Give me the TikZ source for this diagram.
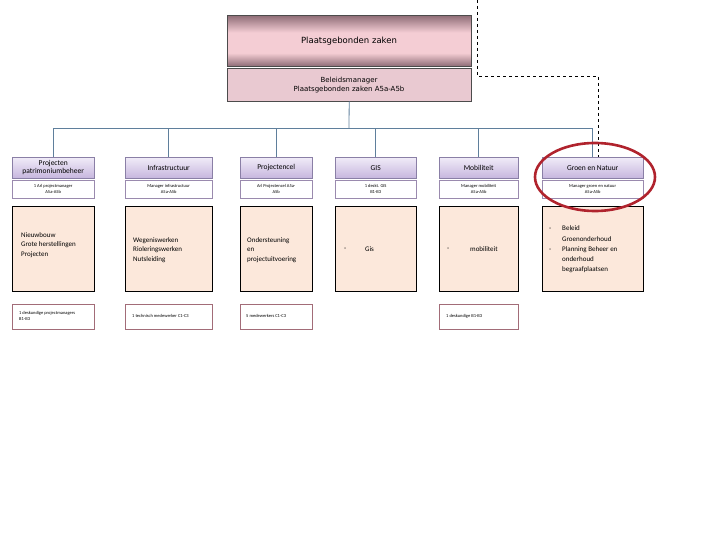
\documentclass[tikz,border=0pt]{standalone}
\usepackage{fontspec}
\setmainfont{Carlito}
\newfontfamily\topfont{DejaVu Sans}
\definecolor{conn}{HTML}{5F7F9C}
\definecolor{hdrtop}{HTML}{F1ECF8}
\definecolor{hdrbot}{HTML}{C6B6DE}
\definecolor{hdrline}{HTML}{8A7FA6}
\definecolor{peach}{HTML}{FCE8DB}
\definecolor{roleline}{HTML}{9A8AAE}
\definecolor{botline}{HTML}{A26C78}
\definecolor{topdark}{HTML}{8E6C76}
\definecolor{toppink}{HTML}{F4CDD4}
\definecolor{mgrfill}{HTML}{E9C9D1}
\definecolor{ringred}{HTML}{B0232D}
\pgfdeclareverticalshading{topshade}{100bp}{color(0bp)=(topdark); color(25bp)=(topdark); color(38bp)=(toppink); color(58bp)=(toppink); color(75bp)=(topdark); color(100bp)=(topdark)}
\tikzset{
  topbox/.style={draw=black!70, shading=topshade, anchor=north west, inner sep=0pt},
  mgrbox/.style={draw=black!70, fill=mgrfill, anchor=north west, inner sep=0pt},
  hdr/.style={draw=hdrline, shading=axis, top color=hdrtop, bottom color=hdrbot, anchor=north west, inner sep=1pt, align=center, font=\fontsize{7.5}{8.5}\selectfont},
  role/.style={draw=roleline, fill=white, anchor=north west, inner sep=1pt, align=center, font=\fontsize{4.5}{6}\selectfont},
  task/.style={draw=black, fill=peach, anchor=north west, inner sep=0pt},
  bot/.style={draw=botline, fill=white, anchor=north west, inner sep=0pt},
  tasktext/.style={anchor=west, align=left, inner sep=0pt, font=\fontsize{7}{9.5}\selectfont},
  bottext/.style={anchor=west, align=left, inner sep=0pt, font=\fontsize{4.5}{6}\selectfont},
  connline/.style={draw=conn, line width=0.8pt},
}
\begin{document}
\begin{tikzpicture}[x=1pt,y=-1pt]
\useasboundingbox (0,0) rectangle (720,540);
% top
\node[topbox, minimum width=244pt, minimum height=51pt] (top) at (227,15) {};
\node[font=\topfont\fontsize{8.5}{10}\selectfont] (toptext) at (349,41) {Plaatsgebonden zaken};
\node[mgrbox, minimum width=244pt, minimum height=33pt] (mgr) at (227,68) {};
\node[align=center, font=\topfont\fontsize{7}{9}\selectfont] (mgrtext) at (349,85) {Beleidsmanager\\Plaatsgebonden zaken A5a-A5b};
% headers
\node[hdr, minimum width=82pt, minimum height=21pt] (h1) at (12,157) {Projecten\\patrimoniumbeheer};
\node[hdr, minimum width=87pt, minimum height=21pt] (h2) at (125,157) {Infrastructuur};
\node[hdr, minimum width=72pt, minimum height=21pt] (h3) at (240,157) {Projectencel};
\node[hdr, minimum width=81pt, minimum height=21pt] (h4) at (335,157) {GIS};
\node[hdr, minimum width=79pt, minimum height=21pt] (h5) at (439,157) {Mobiliteit};
\node[hdr, minimum width=101pt, minimum height=21pt] (h6) at (542,157) {Groen en Natuur};
% roles
\node[role, minimum width=82pt, minimum height=18pt] (r1) at (12,180) {1 Arl projectmanager\\A5a-A5b};
\node[role, minimum width=87pt, minimum height=18pt] (r2) at (125,180) {Manager infrastructuur\\A5a-A5b};
\node[role, minimum width=72pt, minimum height=18pt] (r3) at (240,180) {Arl Projectencel A5a-\\A5b};
\node[role, minimum width=81pt, minimum height=18pt] (r4) at (335,180) {1 deskt. GIS\\B1-B3};
\node[role, minimum width=79pt, minimum height=18pt] (r5) at (439,180) {Manager mobiliteit\\A5a-A5b};
\node[role, minimum width=101pt, minimum height=18pt] (r6) at (542,180) {Manager groen en natuur\\A5a-A5b};
% task boxes
\node[task, minimum width=82pt, minimum height=85pt] (t1) at (12,206) {};
\node[task, minimum width=87pt, minimum height=85pt] (t2) at (125,206) {};
\node[task, minimum width=72pt, minimum height=85pt] (t3) at (240,206) {};
\node[task, minimum width=81pt, minimum height=85pt] (t4) at (335,206) {};
\node[task, minimum width=79pt, minimum height=85pt] (t5) at (439,206) {};
\node[task, minimum width=101pt, minimum height=85pt] (t6) at (542,206) {};
\node[tasktext] (x1) at (21,245) {Nieuwbouw\\Grote herstellingen\\Projecten};
\node[tasktext] (x2) at (133,250) {Wegeniswerken\\Rioleringswerken\\Nutsleiding};
\node[tasktext] (x3) at (247,250) {Ondersteuning\\en\\projectuitvoering};
\node[tasktext] (x4a) at (344,249) {-};
\node[tasktext] (x4b) at (365,249) {Gis};
\node[tasktext] (x5a) at (447,249) {-};
\node[tasktext] (x5b) at (470,249) {mobiliteit};
\node[tasktext] (x6a) at (549,229) {-};
\node[tasktext] (x6b) at (549,250) {-};
\node[tasktext, font=\fontsize{7}{10.2}\selectfont] (x6) at (562,249.5) {Beleid\\Groenonderhoud\\Planning Beheer en\\onderhoud\\begraafplaatsen};
% bottom boxes
\node[bot, minimum width=82pt, minimum height=25pt] (b1) at (12,304) {};
\node[bot, minimum width=87pt, minimum height=25pt] (b2) at (125,304) {};
\node[bot, minimum width=72pt, minimum height=25pt] (b3) at (240,304) {};
\node[bot, minimum width=79pt, minimum height=25pt] (b5) at (439,304) {};
\node[bottext] (y1) at (19,316) {1 deskundige projectmanagers\\B1-B3};
\node[bottext] (y2) at (132,316) {1 technisch medewerker C1-C3};
\node[bottext] (y3) at (246,316) {5 medewerkers C1-C3};
\node[bottext] (y5) at (446,316) {1 deskundige B1-B3};
% connectors
\coordinate (bus) at (349,128);
\draw[connline] (mgr.south) -- (bus);
\foreach \h in {h1,h2,h3,h4,h5,h6} \draw[connline] (\h.north) |- (bus);
% dashed line
\coordinate (dtop) at (477,0);
\coordinate (dcorner) at (598,76);
\draw[dashed, line width=0.8pt] (dtop) |- (dcorner) -- (dcorner |- h6.north);
% red ring
\draw[ringred, line width=2.6pt] (595,177) ellipse [x radius=60, y radius=34];
\end{tikzpicture}
\end{document}
